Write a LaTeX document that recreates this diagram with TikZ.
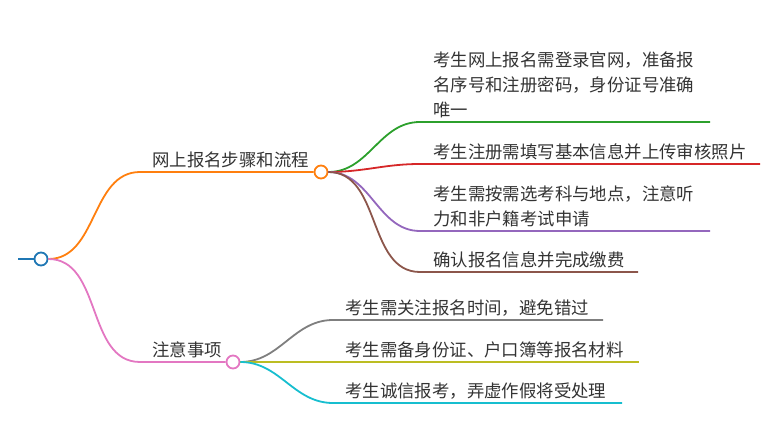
\documentclass[tikz,border=0pt]{standalone}
\usepackage{fontspec}
\newfontfamily\cjk{Noto Sans CJK SC}
\definecolor{cBlue}{HTML}{1F77B4}
\definecolor{cOrange}{HTML}{FF7F0E}
\definecolor{cGreen}{HTML}{2CA02C}
\definecolor{cRed}{HTML}{D62728}
\definecolor{cPurple}{HTML}{9467BD}
\definecolor{cBrown}{HTML}{8C564B}
\definecolor{cPink}{HTML}{E377C2}
\definecolor{cGray}{HTML}{7F7F7F}
\definecolor{cOlive}{HTML}{BCBD22}
\definecolor{cCyan}{HTML}{17BECF}
\definecolor{txt}{HTML}{333333}
\tikzset{
  dot/.style={circle,draw=#1,line width=1.8pt,fill=white,minimum size=13pt,inner sep=0pt},
  br/.style={draw=#1,line width=1.8pt},
  lbl/.style={anchor=south west,inner sep=0pt,text=txt,font=\cjk\fontsize{17.4}{25}\selectfont,align=left}
}
\begin{document}
\begin{tikzpicture}[x=1pt,y=-1pt]
   \useasboundingbox (0,0) rectangle (780,441);
   \begin{scope}
    \node[dot=cBlue] (root) at (41,259) {};
    \coordinate (stub) at (18,259);
    \draw[br=cBlue] (stub) -- (root.west);
    \node[dot=cOrange] (steps) at (321,172) {};
    \node[dot=cPink] (notes) at (233,362) {};
    \coordinate (stepsL) at (140,172);
    \coordinate (notesL) at (140,362);
    \draw[br=cOrange] (root.east) to[out=0,in=180] (stepsL) -- (steps.west);
    \draw[br=cPink] (root.east) to[out=0,in=180] (notesL) -- (notes.west);
    \node[lbl] (stepsT) at (152,168.5) {网上报名步骤和流程};
    \node[lbl] (notesT) at (152,358.5) {注意事项};
   \end{scope}
   \begin{scope}
    \coordinate (loginL) at (420,122);  \coordinate (loginR) at (710,122);
    \coordinate (formL) at (420,164);   \coordinate (formR) at (760,164);
    \coordinate (pickL) at (420,231);   \coordinate (pickR) at (710,231);
    \coordinate (payL) at (420,272);    \coordinate (payR) at (638,272);
    \draw[br=cGreen] (steps.east) to[out=0,in=180] (loginL) -- (loginR);
    \draw[br=cRed] (steps.east) to[out=0,in=180] (formL) -- (formR);
    \draw[br=cPurple] (steps.east) to[out=0,in=180] (pickL) -- (pickR);
    \draw[br=cBrown] (steps.east) to[out=0,in=180] (payL) -- (payR);
    \node[lbl] (loginT) at (433,118.5) {考生网上报名需登录官网，准备报\\名序号和注册密码，身份证号准确\\唯一};
    \node[lbl] (formT) at (433,160.5) {考生注册需填写基本信息并上传审核照片};
    \node[lbl] (pickT) at (433,227.5) {考生需按需选考科与地点，注意听\\力和非户籍考试申请};
    \node[lbl] (payT) at (433,268.5) {确认报名信息并完成缴费};
   \end{scope}
   \begin{scope}
    \coordinate (timeL) at (333,320);   \coordinate (timeR) at (603,320);
    \coordinate (docsL) at (333,362);   \coordinate (docsR) at (639,362);
    \coordinate (honestL) at (333,403); \coordinate (honestR) at (622,403);
    \draw[br=cGray] (notes.east) to[out=0,in=180] (timeL) -- (timeR);
    \draw[br=cOlive] (notes.east) -- (docsL) -- (docsR);
    \draw[br=cCyan] (notes.east) to[out=0,in=180] (honestL) -- (honestR);
    \node[lbl] (timeT) at (345,316.5) {考生需关注报名时间，避免错过};
    \node[lbl] (docsT) at (345,358.5) {考生需备身份证、户口簿等报名材料};
    \node[lbl] (honestT) at (345,399.5) {考生诚信报考，弄虚作假将受处理};
   \end{scope}
\end{tikzpicture}
\end{document}
